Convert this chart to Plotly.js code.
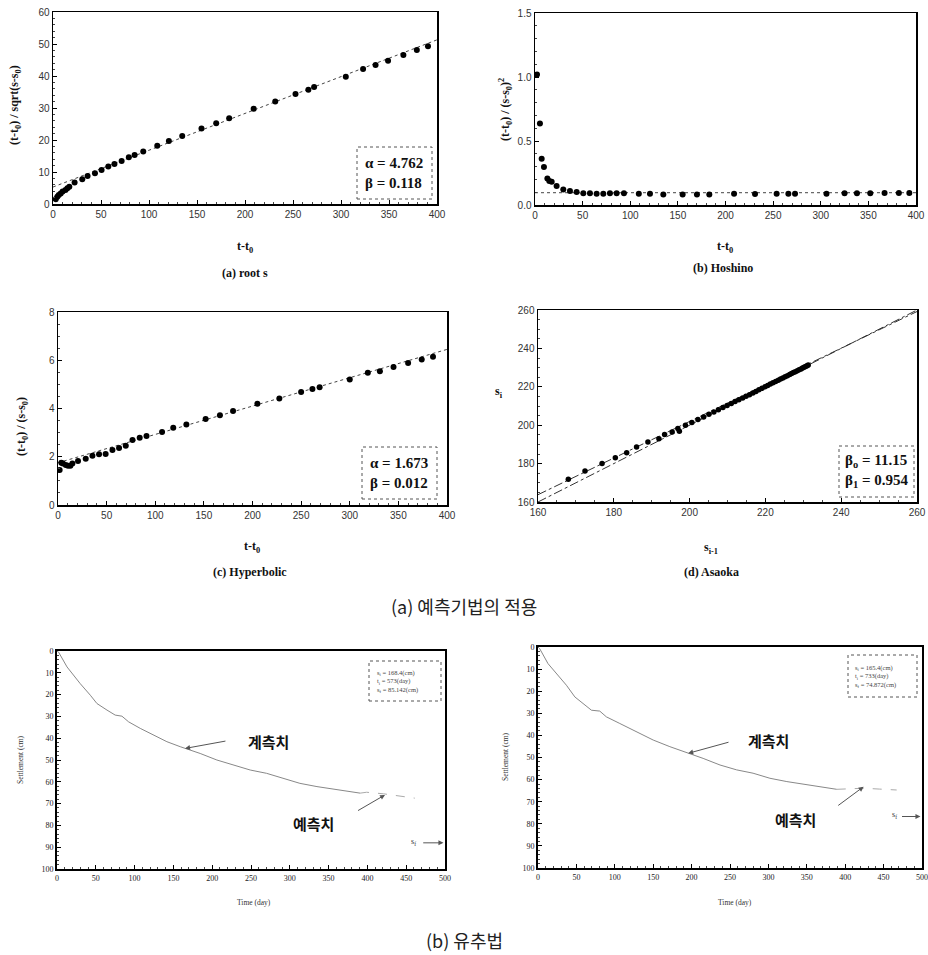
<!DOCTYPE html>
<html>
<head>
<meta charset="utf-8">
<script src="https://cdn.plot.ly/plotly-3.0.1.min.js"></script>
<style>html,body{margin:0;padding:0;background:#fff;}#chart{width:928px;height:955px;}</style>
</head>
<body>
<div id="chart"></div>
<script>
// ---------- (a) root s ----------
const rootT = [2.8,4.5,6,8,10,13,15,17,22.5,30.5,36,43.7,50.6,57.6,64,71.5,79,85,94,108.6,120.7,134.6,154.7,170,183.5,209,231.5,252.6,266,272,305,323,336,349,365,379,390.6];
const rootY = [1.5,2.3,2.8,3.3,3.9,4.4,4.9,5.4,6.7,7.7,8.75,9.6,10.6,11.7,12.5,13.4,14.6,15.3,16.4,18.2,19.7,21.25,23.6,25.2,26.8,29.8,32,34.4,35.7,36.6,39.8,42.2,43.4,44.8,46.6,48.1,49.3];
const rootFitX = [0,400];
const rootFitY = [5.3,51.3];

// ---------- (b) Hoshino ----------
const hoshT = [2.1,5.2,7,9.4,13,15,17.5,22.7,29.7,36.7,43.7,50.7,57.7,64.7,71.7,78.7,85.7,93.4,109,120.7,134.7,155,170,183,209,231,253.7,266,273,306,325,338,352,367,382,393];
const hoshY = [1.019,0.637,0.361,0.296,0.208,0.187,0.182,0.148,0.122,0.109,0.101,0.091,0.091,0.088,0.088,0.091,0.091,0.091,0.088,0.088,0.083,0.083,0.083,0.083,0.088,0.086,0.088,0.088,0.088,0.088,0.091,0.091,0.091,0.094,0.094,0.094];
const hoshFitX = [0,400];
const hoshFitY = [0.096,0.096];

// ---------- (c) Hyperbolic ----------
const hypT = [1.7,3.4,5,8,10.3,12.7,14.8,20.6,28.5,35.4,42.2,49,56,62.8,69.7,76.6,84,91,107,118.5,132,151.8,166.5,180,205,227.6,250,261.6,269,300,318.6,331,345,360,374,385.6];
const hypY = [1.45,1.75,1.72,1.66,1.63,1.63,1.72,1.82,1.92,2.04,2.1,2.11,2.28,2.36,2.46,2.69,2.79,2.86,3.03,3.2,3.34,3.56,3.72,3.9,4.2,4.41,4.68,4.81,4.88,5.2,5.48,5.54,5.72,5.89,6.03,6.14];
const hypFitX = [0,400];
const hypFitY = [1.75,6.45];

// ---------- (d) Asaoka ----------
const asaPrev = [168,172.4,176.9,180.4,183.4,186,189,191.9,193.4,195.4,196.9,197.3,198.9,200.6,202.2,203.7,205.1,206.4,207.6,208.8,209.9,211.0,212.0,213.0,214.0,214.9,215.8,216.7,217.5,218.3,219.1,219.9,220.6,221.3,222.0,222.7,223.4,224.0,224.6,225.2,225.8,226.4,226.9,227.4,227.9,228.4,228.9,229.4,229.8,230.2,230.6,231.0,231.3];
const asaCurr = [171.8,176.2,180,183.1,185.6,188.7,191.3,193,195.1,196.5,198.3,196.9,200,201.4,203,204.3,205.7,206.9,208.1,209.2,210.3,211.3,212.3,213.2,214.2,215.1,215.9,216.8,217.6,218.4,219.2,220.0,220.7,221.4,222.1,222.8,223.4,224.0,224.6,225.2,225.8,226.4,226.9,227.4,227.9,228.4,228.9,229.3,229.8,230.2,230.6,231.0,231.3];
const asaFitX = [160,260];
const asaFitY = [163.8,259.2];
const asaEqX = [160,260];
const asaEqY = [160,260];

// ---------- (e) analogy, left ----------
const leftT = [0,2,12.9,30,43,51.5,64.4,75,83.7,92.3,107.3,124.5,141.6,158.8,169.5,184.5,206,227.5,249,270,292,313,335,356,373,390.6];
const leftS = [0,0.5,7.3,15,20.3,24.1,27.1,29.4,29.9,32.5,35.5,38.6,41.6,43.9,45.1,47,50,52.3,54.6,56.1,58.4,60.7,62.2,63.4,64.2,65.2];
const leftPredT = [390.6,399,420.6,450.6,461];
const leftPredS = [65.2,64.8,65.5,66.8,67.5];

// ---------- (f) analogy, right ----------
const rightT = [0,2.2,13,24,37,48,58.7,69.6,80.4,89,106.5,128,150,171.7,197.8,215,237,258.7,280,302,324,345.6,367,389];
const rightS = [0,0.75,7.5,12,17.3,22.6,25.6,28.6,29,31.6,34.6,38.3,42.1,45.1,48.1,50.4,53.4,55.6,57.1,59.4,60.9,62,63.2,64.4];
const rightPredT = [389,424,445,467];
const rightPredS = [64.4,63.9,64.3,64.7];

const tickFont = {family:'Liberation Sans, Arial, sans-serif', size:10, color:'#333'};
const smallTick = {family:'Liberation Serif, serif', size:8, color:'#222'};
const boldSerif = {family:'Liberation Serif, Times New Roman, serif', size:12, color:'#111'};

function axis(domain, range, dtick, anchor, extra) {
  return Object.assign({
    domain: domain, range: range, dtick: dtick, anchor: anchor,
    showline: true, mirror: true, linecolor: '#000', linewidth: 1.5,
    ticks: 'inside', ticklen: 4, tickcolor: '#000', tickwidth: 1,
    showgrid: false, zeroline: false, tickfont: tickFont,
    minor: {ticks: 'inside', ticklen: 2, tickcolor: '#444'}
  }, extra || {});
}

const mk = {color:'#000', size:6};
const traces = [
  {x: rootFitX, y: rootFitY, xaxis:'x', yaxis:'y', mode:'lines', line:{color:'#444', width:1, dash:'dot'}},
  {x: rootT, y: rootY, xaxis:'x', yaxis:'y', mode:'markers', marker: mk},
  {x: hoshFitX, y: hoshFitY, xaxis:'x2', yaxis:'y2', mode:'lines', line:{color:'#444', width:1, dash:'dot'}},
  {x: hoshT, y: hoshY, xaxis:'x2', yaxis:'y2', mode:'markers', marker: mk},
  {x: hypFitX, y: hypFitY, xaxis:'x3', yaxis:'y3', mode:'lines', line:{color:'#444', width:1, dash:'dot'}},
  {x: hypT, y: hypY, xaxis:'x3', yaxis:'y3', mode:'markers', marker: mk},
  {x: asaFitX, y: asaFitY, xaxis:'x4', yaxis:'y4', mode:'lines', line:{color:'#333', width:1, dash:'dashdot'}},
  {x: asaEqX, y: asaEqY, xaxis:'x4', yaxis:'y4', mode:'lines', line:{color:'#333', width:1, dash:'dashdot'}},
  {x: asaPrev, y: asaCurr, xaxis:'x4', yaxis:'y4', mode:'markers', marker:{color:'#000', size:5.5}},
  {x: leftT, y: leftS, xaxis:'x5', yaxis:'y5', mode:'lines', line:{color:'#888', width:1}},
  {x: leftPredT, y: leftPredS, xaxis:'x5', yaxis:'y5', mode:'lines', line:{color:'#aaa', width:1, dash:'dash'}},
  {x: rightT, y: rightS, xaxis:'x6', yaxis:'y6', mode:'lines', line:{color:'#888', width:1}},
  {x: rightPredT, y: rightPredS, xaxis:'x6', yaxis:'y6', mode:'lines', line:{color:'#aaa', width:1, dash:'dash'}}
];

const W = 928, H = 955;
function px(x){return x/W;}
function py(y){return 1 - y/H;}

const layout = {
  width: W, height: H, margin:{l:0,r:0,t:0,b:0},
  paper_bgcolor:'#fff', plot_bgcolor:'#fff', showlegend:false,
  xaxis: axis([px(53),px(437)], [0,400], 50, 'y'),
  yaxis: axis([py(204),py(12)], [0,60], 10, 'x'),
  xaxis2: axis([px(535),px(916)], [0,400], 50, 'y2'),
  yaxis2: axis([py(205),py(13)], [0,1.5], 0.5, 'x2', {tickformat:'.1f'}),
  xaxis3: axis([px(58),px(447)], [0,400], 50, 'y3'),
  yaxis3: axis([py(505),py(312)], [0,8], 2, 'x3'),
  xaxis4: axis([px(538),px(917)], [160,260], 20, 'y4'),
  yaxis4: axis([py(502),py(310)], [160,260], 20, 'x4'),
  xaxis5: axis([px(57),px(445)], [0,500], 50, 'y5', {tickfont: smallTick, linewidth:2}),
  yaxis5: axis([py(869),py(651)], [100,0], 10, 'x5', {tickfont: smallTick, linewidth:2}),
  xaxis6: axis([px(538),px(922)], [0,500], 50, 'y6', {tickfont: smallTick, linewidth:2}),
  yaxis6: axis([py(868),py(647)], [100,0], 10, 'x6', {tickfont: smallTick, linewidth:2}),
  shapes: [
    {type:'rect', xref:'paper', yref:'paper', x0:px(357), x1:px(432), y0:py(199), y1:py(147), line:{color:'#555', width:1, dash:'dot'}},
    {type:'rect', xref:'paper', yref:'paper', x0:px(362), x1:px(437), y0:py(499), y1:py(447), line:{color:'#555', width:1, dash:'dot'}},
    {type:'rect', xref:'paper', yref:'paper', x0:px(839), x1:px(914), y0:py(497), y1:py(446), line:{color:'#555', width:1, dash:'dot'}},
    {type:'rect', xref:'paper', yref:'paper', x0:px(369), x1:px(441), y0:py(701), y1:py(661), line:{color:'#555', width:1, dash:'dot'}},
    {type:'rect', xref:'paper', yref:'paper', x0:px(848), x1:px(917), y0:py(697), y1:py(655), line:{color:'#555', width:1, dash:'dot'}}
  ],
  annotations: []
};

function txt(x, y, text, font, extra) {
  layout.annotations.push(Object.assign({xref:'paper', yref:'paper', x:px(x), y:py(y), text:text, showarrow:false, font:font, xanchor:'center', yanchor:'middle'}, extra || {}));
}
const statFont = {family:'Liberation Serif, Times New Roman, serif', size:15, color:'#111'};
// stat boxes
txt(394, 173, '<b>α = 4.762<br>β = 0.118</b>', statFont, {align:'left'});
txt(399, 473, '<b>α = 1.673<br>β = 0.012</b>', statFont, {align:'left'});
txt(876, 471, '<b>β<sub>o</sub> = 11.15<br>β<sub>1</sub> = 0.954</b>', statFont, {align:'left'});
// axis titles
txt(15, 105, '<b>(t-t<sub>0</sub>) / sqrt(s-s<sub>0</sub>)</b>', boldSerif, {textangle:-90});
txt(505, 110, '<b>(t-t<sub>0</sub>) / (s-s<sub>0</sub>)<sup>2</sup></b>', boldSerif, {textangle:-90});
txt(22, 427, '<b>(t-t<sub>0</sub>) / (s-s<sub>0</sub>)</b>', boldSerif, {textangle:-90});
txt(499, 392, '<b>s<sub>i</sub></b>', boldSerif);
txt(245, 247, '<b>t-t<sub>0</sub></b>', boldSerif);
txt(725, 247, '<b>t-t<sub>0</sub></b>', boldSerif);
txt(252, 547, '<b>t-t<sub>0</sub></b>', boldSerif);
txt(711, 548, '<b>s<sub>i-1</sub></b>', boldSerif);
// captions
txt(245, 273, '<b>(a) root s</b>', boldSerif);
txt(723, 268, '<b>(b) Hoshino</b>', boldSerif);
txt(250, 572, '<b>(c) Hyperbolic</b>', boldSerif);
txt(711, 572, '<b>(d) Asaoka</b>', boldSerif);
const bigFont = {family:'Noto Sans CJK KR, Noto Sans, sans-serif', size:18, color:'#222'};
txt(464, 606, '(a) 예측기법의 적용', bigFont);
txt(464, 940, '(b) 유추법', bigFont);
// bottom axis titles
const tinyFont = {family:'Liberation Serif, serif', size:7.5, color:'#333'};
txt(254, 902, 'Time (day)', tinyFont);
txt(735, 902, 'Time (day)', tinyFont);
txt(20, 760, 'Settlement (cm)', tinyFont, {textangle:-90});
txt(505, 757, 'Settlement (cm)', tinyFont, {textangle:-90});
// legend texts
const legFont = {family:'Liberation Serif, serif', size:6.5, color:'#444'};
txt(375, 681, 's<sub>i</sub> = 168.4(cm)<br>t<sub>i</sub> = 573(day)<br>s<sub>f</sub> = 85.142(cm)', legFont, {xanchor:'left', align:'left'});
txt(853, 676, 's<sub>i</sub> = 165.4(cm)<br>t<sub>i</sub> = 733(day)<br>s<sub>f</sub> = 74.872(cm)', legFont, {xanchor:'left', align:'left'});

// arrows and Korean labels on bottom panels
const korFont = {family:'Noto Sans CJK KR, sans-serif', size:15, color:'#111'};
function arr(xr, yr, x, y, ax, ay) {
  layout.annotations.push({xref:xr, yref:yr, axref:xr, ayref:yr, x:x, y:y, ax:ax, ay:ay, text:'', showarrow:true, arrowhead:2, arrowsize:1, arrowwidth:1, arrowcolor:'#555'});
}
function dtxt(xr, yr, x, y, text, font) {
  layout.annotations.push({xref:xr, yref:yr, x:x, y:y, text:text, showarrow:false, font:font});
}
arr('x5','y5', 165, 44.7, 219, 41.2);
dtxt('x5','y5', 272, 41.6, '<b>계측치</b>', korFont);
arr('x5','y5', 422.7, 66, 386, 73.6);
dtxt('x5','y5', 330, 79, '<b>예측치</b>', korFont);
arr('x5','y5', 498, 88, 470, 88);
dtxt('x5','y5', 460, 87.5, 's<sub>f</sub>', {family:'Liberation Serif, serif', size:8, color:'#333'});
arr('x6','y6', 195.6, 48.1, 250, 42.9);
dtxt('x6','y6', 300, 42.1, '<b>계측치</b>', korFont);
arr('x6','y6', 424, 63.2, 389, 72.2);
dtxt('x6','y6', 335, 78.2, '<b>예측치</b>', korFont);
arr('x6','y6', 498, 76.7, 472, 76.7);
dtxt('x6','y6', 464, 76.2, 's<sub>f</sub>', {family:'Liberation Serif, serif', size:8, color:'#333'});

Plotly.newPlot('chart', traces, layout, {staticPlot:true, displayModeBar:false});
</script>
</body>
</html>
